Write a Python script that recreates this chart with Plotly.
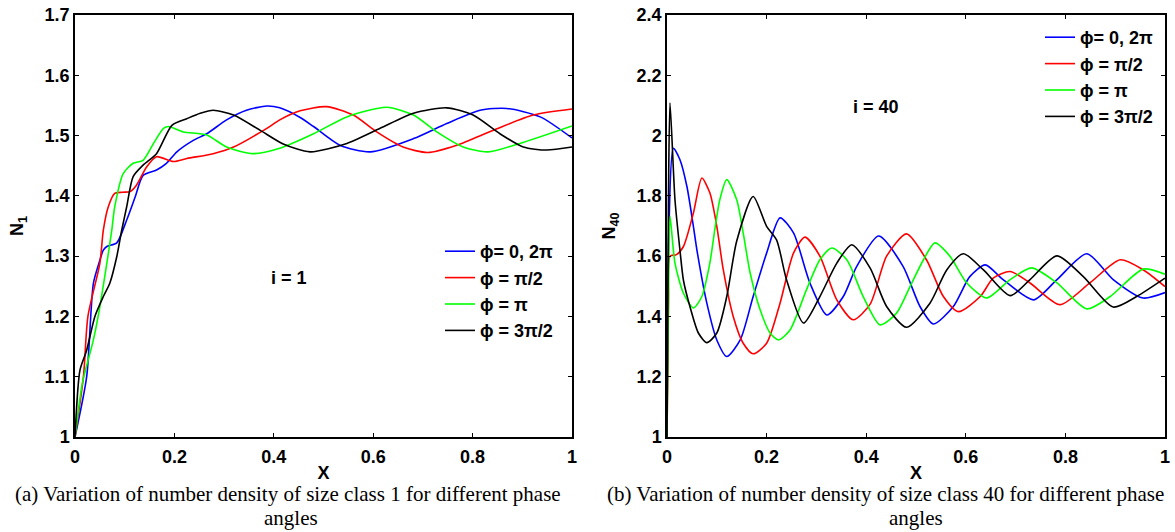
import plotly.graph_objects as go

# ---------------- data: panel (a), size class 1 ----------------
x_a_phi0 = [0, 0.0235, 0.037, 0.05, 0.057, 0.064, 0.084, 0.104, 0.121, 0.137, 0.164, 0.184, 0.205, 0.238,
            0.265, 0.305, 0.345, 0.386, 0.412, 0.453, 0.48, 0.533, 0.594, 0.681, 0.748, 0.815, 0.869, 0.936, 1.0]
y_a_phi0 = [1.0, 1.1, 1.255, 1.293, 1.31, 1.316, 1.322, 1.36, 1.398, 1.434, 1.443, 1.454, 1.473, 1.492,
            1.503, 1.526, 1.542, 1.549, 1.546, 1.530, 1.515, 1.484, 1.473, 1.495, 1.52, 1.542, 1.545, 1.531, 1.496]

x_a_phi1 = [0, 0.017, 0.026, 0.05, 0.057, 0.067, 0.08, 0.095, 0.111, 0.124, 0.144, 0.164, 0.198, 0.225,
            0.278, 0.319, 0.386, 0.412, 0.453, 0.506, 0.56, 0.607, 0.66, 0.71, 0.768, 0.842, 0.922, 1.0]
y_a_phi1 = [1.0, 1.1, 1.2, 1.288, 1.343, 1.382, 1.404, 1.406, 1.407, 1.418, 1.448, 1.465, 1.457, 1.462,
            1.47, 1.481, 1.512, 1.526, 1.541, 1.548, 1.534, 1.506, 1.481, 1.472, 1.484, 1.509, 1.534, 1.544]

x_a_phi2 = [0, 0.015, 0.037, 0.05, 0.064, 0.074, 0.08, 0.097, 0.117, 0.137, 0.158, 0.178, 0.188, 0.218,
            0.265, 0.305, 0.358, 0.412, 0.48, 0.547, 0.627, 0.681, 0.728, 0.781, 0.831, 0.895, 1.0]
y_a_phi2 = [1.0, 1.09, 1.161, 1.216, 1.288, 1.343, 1.382, 1.437, 1.454, 1.459, 1.487, 1.512, 1.515, 1.506,
            1.501, 1.481, 1.47, 1.479, 1.503, 1.531, 1.547, 1.534, 1.506, 1.481, 1.473, 1.487, 1.516]

x_a_phi3 = [0, 0.01, 0.0235, 0.04, 0.057, 0.07, 0.084, 0.094, 0.104, 0.117, 0.137, 0.164, 0.195, 0.225,
            0.252, 0.278, 0.319, 0.372, 0.419, 0.473, 0.547, 0.614, 0.681, 0.748, 0.801, 0.855, 0.902, 0.949, 1.0]
y_a_phi3 = [1.0, 1.111, 1.144, 1.2, 1.233, 1.255, 1.299, 1.343, 1.382, 1.432, 1.451, 1.47, 1.517, 1.528,
            1.537, 1.542, 1.534, 1.509, 1.486, 1.473, 1.487, 1.512, 1.537, 1.546, 1.534, 1.503, 1.481, 1.476, 1.481]

# ---------------- data: panel (b), size class 40 ----------------
x_b_phi0 = [0, 0.004, 0.0127, 0.026, 0.04, 0.053, 0.06, 0.08, 0.1, 0.12, 0.147, 0.173, 0.2, 0.227, 0.254,
            0.287, 0.321, 0.354, 0.381, 0.425, 0.474, 0.508, 0.535, 0.575, 0.608, 0.639, 0.675, 0.736, 0.783,
            0.843, 0.896, 0.956, 1.0]
y_b_phi0 = [1.0, 1.7, 1.958, 1.92, 1.831, 1.699, 1.621, 1.444, 1.322, 1.267, 1.322, 1.466, 1.61, 1.727, 1.677,
            1.511, 1.405, 1.466, 1.566, 1.667, 1.566, 1.433, 1.375, 1.433, 1.532, 1.571, 1.522, 1.455, 1.522,
            1.608, 1.522, 1.461, 1.479]

x_b_phi1 = [0, 0.003, 0.006, 0.019, 0.033, 0.053, 0.07, 0.086, 0.1, 0.113, 0.133, 0.153, 0.173, 0.2, 0.227,
            0.254, 0.277, 0.307, 0.341, 0.374, 0.408, 0.441, 0.481, 0.521, 0.555, 0.585, 0.629, 0.655, 0.689,
            0.729, 0.789, 0.849, 0.91, 0.956, 1.0]
y_b_phi1 = [1.0, 1.45, 1.6, 1.605, 1.632, 1.743, 1.859, 1.81, 1.699, 1.555, 1.4, 1.311, 1.276, 1.311, 1.444,
            1.61, 1.663, 1.6, 1.455, 1.389, 1.441, 1.6, 1.674, 1.588, 1.466, 1.416, 1.466, 1.527, 1.549,
            1.511, 1.439, 1.511, 1.588, 1.555, 1.499]

x_b_phi2 = [0, 0.003, 0.006, 0.016, 0.033, 0.053, 0.07, 0.086, 0.096, 0.106, 0.12, 0.14, 0.153, 0.167, 0.187,
            0.207, 0.224, 0.247, 0.28, 0.307, 0.331, 0.361, 0.394, 0.428, 0.461, 0.488, 0.515, 0.538, 0.568,
            0.602, 0.642, 0.689, 0.732, 0.783, 0.843, 0.89, 0.956, 1.0]
y_b_phi2 = [1.0, 1.5, 1.732, 1.577, 1.477, 1.428, 1.466, 1.577, 1.688, 1.787, 1.854, 1.787, 1.677, 1.544, 1.422,
            1.345, 1.322, 1.355, 1.488, 1.588, 1.627, 1.588, 1.466, 1.372, 1.411, 1.499, 1.588, 1.644, 1.6,
            1.511, 1.461, 1.522, 1.561, 1.511, 1.425, 1.466, 1.557, 1.54]

x_b_phi3 = [0, 0.003, 0.006, 0.016, 0.026, 0.033, 0.046, 0.063, 0.08, 0.1, 0.12, 0.14, 0.173, 0.2, 0.22, 0.24,
            0.274, 0.307, 0.341, 0.371, 0.408, 0.441, 0.481, 0.528, 0.562, 0.595, 0.635, 0.689, 0.729, 0.783,
            0.836, 0.896, 0.943, 1.0]
y_b_phi3 = [1.0, 1.8, 2.108, 1.787, 1.62, 1.52, 1.433, 1.345, 1.313, 1.345, 1.466, 1.65, 1.798, 1.699, 1.654,
            1.522, 1.378, 1.466, 1.577, 1.638, 1.56, 1.433, 1.364, 1.444, 1.555, 1.608, 1.555, 1.469, 1.522,
            1.601, 1.532, 1.431, 1.466, 1.527]

series_names = ["\u03d5= 0, 2\u03c0", "\u03d5 = \u03c0/2", "\u03d5 = \u03c0", "\u03d5 = 3\u03c0/2"]
series_colors = ["#0000FF", "#FF0000", "#00FF00", "#000000"]
x_ticks = [0, 0.2, 0.4, 0.6, 0.8, 1]
x_tick_text = ["0", "0.2", "0.4", "0.6", "0.8", "1"]

panel_a = [(x_a_phi0, y_a_phi0), (x_a_phi1, y_a_phi1), (x_a_phi2, y_a_phi2), (x_a_phi3, y_a_phi3)]
panel_b = [(x_b_phi0, y_b_phi0), (x_b_phi1, y_b_phi1), (x_b_phi2, y_b_phi2), (x_b_phi3, y_b_phi3)]

SANS = "Liberation Sans, Arial, sans-serif"
SERIF = "Liberation Serif, Times New Roman, serif"
W, H = 1175, 532

fig = go.Figure()
for (xs, ys), nm, c in zip(panel_a, series_names, series_colors):
    fig.add_trace(go.Scatter(x=xs, y=ys, mode="lines", name=nm, xaxis="x", yaxis="y", legend="legend",
                             line=dict(color=c, width=1.6, shape="spline", smoothing=0.7)))
for (xs, ys), nm, c in zip(panel_b, series_names, series_colors):
    fig.add_trace(go.Scatter(x=xs, y=ys, mode="lines", name=nm, xaxis="x2", yaxis="y2", legend="legend2",
                             line=dict(color=c, width=1.6, shape="spline", smoothing=0.7)))

tickfont = dict(family=SANS, size=18, color="black", weight="bold")
titlefont = dict(family=SANS, size=18, color="black", weight="bold")
legfont = dict(family=SANS, size=18, color="black", weight="bold")

def xaxis_cfg(domain, anchor):
    return dict(domain=domain, anchor=anchor, range=[0, 1], tickvals=x_ticks, ticktext=x_tick_text,
                ticks="inside", ticklen=4, tickcolor="black", showline=True, linecolor="black", linewidth=1.5,
                mirror="ticks", showgrid=False, zeroline=False, tickfont=tickfont, automargin=False,
                ticklabelstandoff=3,
                title=dict(text="X", font=titlefont, standoff=0))

def yaxis_cfg(domain, anchor, rng, dtick, title):
    return dict(domain=domain, anchor=anchor, range=rng, dtick=dtick, tick0=1,
                ticks="inside", ticklen=4, tickcolor="black", showline=True, linecolor="black", linewidth=1.5,
                mirror="ticks", showgrid=False, zeroline=False, tickfont=tickfont, automargin=False,
                title=dict(text=title, font=titlefont, standoff=16))

ydom = [1 - 437 / H, 1 - 15 / H]
cap_font = dict(family=SERIF, size=21, color="black")
fig.update_layout(
    width=W, height=H,
    margin=dict(l=0, r=0, t=0, b=0),
    paper_bgcolor="white", plot_bgcolor="white",
    xaxis=xaxis_cfg([75 / W, 572 / W], "y"),
    yaxis=yaxis_cfg(ydom, "x", [1, 1.7], 0.1, "N<sub>1</sub>"),
    xaxis2=xaxis_cfg([667 / W, 1165 / W], "y2"),
    yaxis2=yaxis_cfg(ydom, "x2", [1, 2.4], 0.2, "N<sub>40</sub>"),
    legend=dict(x=440 / W, y=1 - 233 / H, xanchor="left", yanchor="top", bgcolor="rgba(0,0,0,0)",
                font=legfont, tracegroupgap=0),
    legend2=dict(x=1040 / W, y=1 - 19 / H, xanchor="left", yanchor="top", bgcolor="rgba(0,0,0,0)",
                 font=legfont, tracegroupgap=0),
    annotations=[
        dict(text="i = 1", x=0.43, y=1.264, xref="x", yref="y", showarrow=False,
             font=dict(family=SANS, size=18, color="black", weight="bold")),
        dict(text="i = 40", x=0.42, y=2.095, xref="x2", yref="y2", showarrow=False,
             font=dict(family=SANS, size=18, color="black", weight="bold")),
        dict(text="(a) Variation of number density of size class 1 for different phase", x=288 / W, y=1 - 494 / H,
             xref="paper", yref="paper", xanchor="center", yanchor="middle", showarrow=False, font=cap_font),
        dict(text="angles", x=291 / W, y=1 - 518 / H, xanchor="center", yanchor="middle",
             xref="paper", yref="paper", showarrow=False, font=cap_font),
        dict(text="(b) Variation of number density of size class 40 for different phase", x=885 / W, y=1 - 494 / H,
             xref="paper", yref="paper", xanchor="center", yanchor="middle", showarrow=False, font=cap_font),
        dict(text="angles", x=916 / W, y=1 - 518 / H, xanchor="center", yanchor="middle",
             xref="paper", yref="paper", showarrow=False, font=cap_font),
    ],
    showlegend=True,
)

fig.write_html("out.html", config={"displayModeBar": False},
               post_script="document.body.style.margin='0';")
